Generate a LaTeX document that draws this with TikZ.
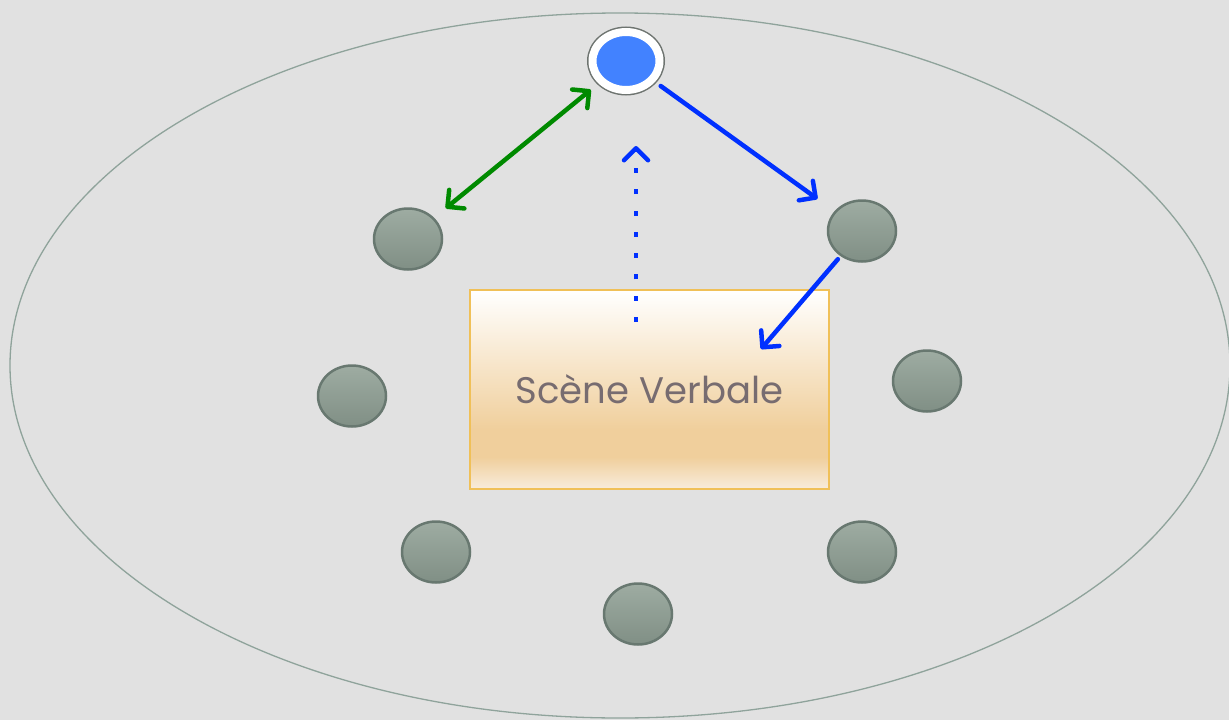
\documentclass[tikz,border=0pt]{standalone}
\usepackage{fontspec}
\setmainfont{Poppins}
\usetikzlibrary{shapes,arrows.meta}
\pgfdeclarelayer{bglayer}
\pgfdeclarelayer{nodelayer}
\pgfdeclarelayer{edgelayer}
\pgfsetlayers{bglayer,nodelayer,edgelayer,main}
\definecolor{paper}{HTML}{E1E1E1}
\definecolor{room}{HTML}{8FA39B}
\definecolor{seattop}{HTML}{9EACA2}
\definecolor{seatbot}{HTML}{808F85}
\definecolor{seatline}{HTML}{687870}
\definecolor{ringline}{HTML}{6E7470}
\definecolor{speakerblue}{HTML}{4282FF}
\definecolor{linkgreen}{HTML}{008A00}
\definecolor{linkblue}{HTML}{0030FF}
\definecolor{sceneline}{HTML}{F0C058}
\definecolor{scenelow}{HTML}{F8ECDC}
\definecolor{scenemid}{HTML}{F0CF9C}
\definecolor{scenetext}{HTML}{776C70}
\pgfdeclareverticalshading{scenefade}{100bp}{color(0bp)=(scenelow); color(25bp)=(scenelow); color(33bp)=(scenemid); color(40bp)=(scenemid); color(75bp)=(white); color(100bp)=(white)}
\tikzstyle{none}=[inner sep=0pt]
\tikzstyle{seat}=[ellipse,draw=seatline,line width=2.5pt,top color=seattop,bottom color=seatbot,minimum width=68pt,minimum height=61pt]
\tikzstyle{speaker}=[ellipse,fill=speakerblue,draw=white,line width=8pt,preaction={draw=ringline,line width=11pt},minimum width=67pt,minimum height=58pt,inner sep=0pt]
\tikzstyle{scene}=[rectangle,draw=sceneline,line width=2pt,shade,shading=scenefade,minimum width=359pt,minimum height=199pt,text=scenetext,font=\fontsize{37}{44}\selectfont]
\tikzstyle{link}=[line width=4.5pt,line cap=round,line join=round,arrows={-Straight Barb[length=12pt,width=24pt,round]}]

\begin{document}
\begin{tikzpicture}[x=1pt,y=-1pt]
	\useasboundingbox (0,0) rectangle (1229,720);
	\begin{pgfonlayer}{bglayer}
		\fill[paper] (0,0) rectangle (1229,720);
		\draw[room,line width=1.3pt] (620,365.5) ellipse [x radius=610pt,y radius=352.5pt];
	\end{pgfonlayer}
	\begin{pgfonlayer}{nodelayer}
		\node [style=speaker] (0) at (626, 61) {};
		\node [style=seat] (1) at (408, 239) {};
		\node [style=seat] (2) at (862, 231) {};
		\node [style=seat] (3) at (352, 396) {};
		\node [style=seat] (4) at (927, 381) {};
		\node [style=seat] (5) at (436, 552) {};
		\node [style=seat] (6) at (862, 552) {};
		\node [style=seat] (7) at (638, 614) {};
		\node [style=scene] (8) at (649.5, 389.5) {Scène Verbale};
		\coordinate (9) at (761, 349);
		\coordinate (10) at (636, 322);
		\coordinate (11) at (636, 146);
	\end{pgfonlayer}
	\begin{pgfonlayer}{edgelayer}
		\draw[style=link,linkgreen,arrows={Straight Barb[length=12pt,width=24pt,round]-Straight Barb[length=12pt,width=24pt,round]},shorten <=10pt,shorten >=15pt] (0) to (1);
		\draw[style=link,linkblue,shorten <=7pt,shorten >=21pt] (0) to (2);
		\draw[style=link,linkblue,shorten <=4pt] (2) to (9);
		\draw[style=link,linkblue,line cap=butt,dash pattern=on 5pt off 16.3pt] (10) to (11);
	\end{pgfonlayer}
\end{tikzpicture}
\end{document}
